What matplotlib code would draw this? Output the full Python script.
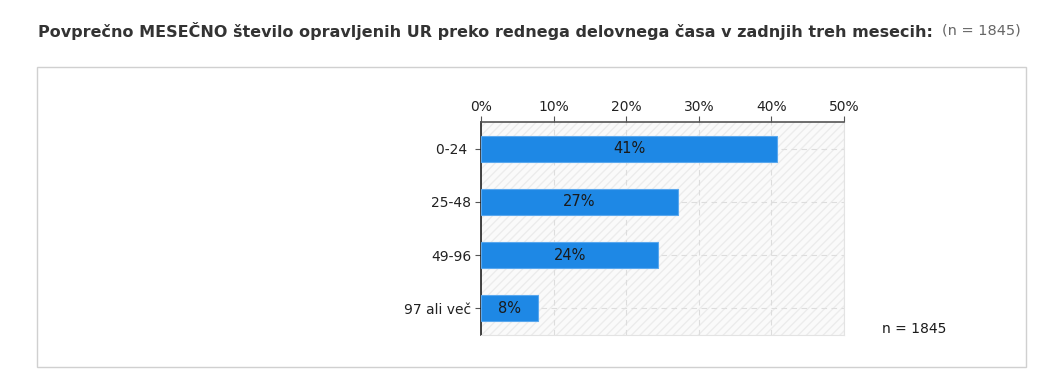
import matplotlib
matplotlib.use('Agg')
import matplotlib.pyplot as plt
from matplotlib.patches import Rectangle

categories = ['0-24 ', '25-48', '49-96', '97 ali več']
values = [40.8, 27.1, 24.4, 7.9]
labels = ['41%', '27%', '24%', '8%']
ticks = [0, 10, 20, 30, 40, 50]
n_total = 1845

W, H = 1053, 388
fig = plt.figure(figsize=(W / 100, H / 100), dpi=100)


def fit_text(txt, target_px):
    # scale the font so the text spans the same width as in the reference
    r = fig.canvas.get_renderer()
    w = txt.get_window_extent(r).width
    txt.set_fontsize(txt.get_fontsize() * target_px / w)


title = fig.text(38 / W, 1 - 31 / H,
                 'Povprečno MESEČNO število opravljenih UR preko rednega delovnega časa v zadnjih treh mesecih:',
                 fontsize=11, fontweight='bold', family='DejaVu Sans', color='#333333', va='center')
fit_text(title, 890)
n_txt = fig.text(942 / W, 1 - 31 / H, f'(n = {n_total})', fontsize=11, family='DejaVu Sans',
                 color='#666666', va='center')
fit_text(n_txt, 78)

# outer frame
fig.patches.append(Rectangle((37 / W, 1 - 367 / H), (1026 - 37) / W, (367 - 67) / H,
                             transform=fig.transFigure, fill=False, edgecolor='#d0d0d0', lw=1))

ax = fig.add_axes([481 / W, 1 - 335 / H, (844 - 481) / W, (335 - 122) / H])
ax.set_facecolor('#fafafa')
ax.add_patch(Rectangle((0, 0), 1, 1, transform=ax.transAxes, fill=False, hatch='////',
                       edgecolor='#ececec', lw=0, zorder=0))

y = list(range(len(categories)))
ax.barh(y, values, height=0.49, color='#1e88e5', edgecolor='#5aa8ee', lw=0.8, zorder=3)
for yi, v, lab in zip(y, values, labels):
    ax.text(v / 2, yi, lab, ha='center', va='center', fontsize=10.5, color='#1a1a1a', zorder=4)

ax.set_xlim(0, 50)
ax.set_ylim(3.5, -0.5)
ax.set_xticks(ticks)
ax.set_xticklabels([f'{t}%' for t in ticks])
ax.set_yticks(y)
ax.set_yticklabels(categories)
ax.xaxis.tick_top()
ax.tick_params(axis='x', length=4, color='#555555', labelsize=10, pad=2, labelcolor='#222222')
ax.tick_params(axis='y', length=4, color='#555555', labelsize=10, pad=3, labelcolor='#222222')
for t in ticks:
    ax.axvline(t, color='#dddddd', ls=(0, (5, 4)), lw=0.8, zorder=1)
for yi in y:
    ax.axhline(yi, color='#dddddd', ls=(0, (5, 4)), lw=0.8, zorder=1)

ax.spines['top'].set_color('#555555')
ax.spines['top'].set_linewidth(1.2)
ax.spines['left'].set_color('#222222')
ax.spines['left'].set_linewidth(1.2)
ax.spines['right'].set_color('#e3e3e3')
ax.spines['bottom'].set_color('#e3e3e3')

fig.text(882 / W, 1 - 329 / H, f'n = {n_total}', fontsize=10, va='center', color='#1a1a1a')

fig.savefig('out.png', dpi=100)
